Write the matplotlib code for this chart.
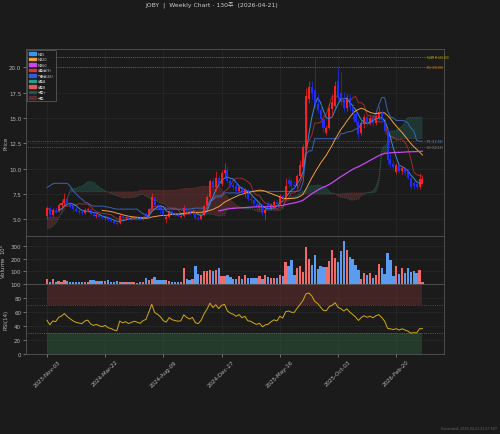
import numpy as np
import pandas as pd
import matplotlib
matplotlib.use('Agg')
import matplotlib.pyplot as plt
from matplotlib.patches import Patch

plt.rcParams['font.family'] = ['DejaVu Sans', 'Noto Sans CJK KR']

ticker = 'JOBY'
start_date = '2023-11-03'
asof = '2026-04-21'

# ---- weekly OHLC (visible 130 weeks) ----
opens = [5.3, 6.1, 5.4, 5.9, 5.8, 6.4, 6.6, 7.0, 6.6, 6.3,
         6.0, 5.8, 5.7, 5.6, 5.9, 6.0, 5.5, 5.3, 5.4, 5.2,
         5.1, 5.2, 4.9, 4.8, 4.6, 4.6, 5.3, 5.1, 5.2, 5.0,
         5.1, 5.2, 5.1, 5.0, 5.5, 5.3, 6.0, 7.2, 6.4, 6.2,
         5.9, 5.0, 5.2, 5.8, 5.5, 5.4, 5.25, 5.3, 6.1, 5.8,
         5.6, 5.8, 5.1, 5.0, 5.4, 6.3, 7.2, 8.8, 8.2, 9.1,
         8.5, 9.6, 9.9, 8.8, 8.4, 8.3, 7.8, 8.2, 7.6, 7.9,
         7.0, 6.9, 6.5, 6.2, 6.4, 5.6, 6.5, 6.0, 6.4, 6.7,
         6.5, 7.3, 7.0, 8.9, 8.8, 8.4, 8.3, 9.3, 10.2, 11.8,
         16.9, 18.1, 17.8, 16.4, 15.8, 14.9, 13.5, 14.0, 15.9, 16.2,
         18.6, 17.5, 16.8, 16.0, 17.0, 16.1, 15.4, 14.6, 13.5, 14.4,
         15.1, 14.6, 15.0, 14.5, 15.0, 15.4, 14.8, 13.7, 10.9, 10.5,
         9.7, 10.4, 9.8, 10.1, 9.8, 9.1, 8.6, 8.5, 8.2, 8.6]
highs = [6.3, 6.3, 6.1, 6.2, 6.6, 6.9, 7.6, 7.1, 6.7, 6.4,
         6.2, 6.0, 5.9, 6.1, 6.2, 6.0, 5.7, 5.6, 5.5, 5.4,
         5.3, 5.3, 5.1, 4.9, 4.7, 5.6, 5.4, 5.3, 5.3, 5.2,
         5.3, 5.4, 5.3, 5.3, 5.7, 6.1, 7.6, 7.3, 6.6, 6.3,
         6.0, 5.4, 5.9, 5.9, 5.7, 5.6, 5.5, 6.4, 6.2, 5.9,
         6.0, 5.9, 5.3, 5.5, 6.4, 7.4, 9.0, 9.2, 9.8, 9.4,
         9.9, 10.6, 10.3, 9.0, 8.7, 8.8, 8.4, 8.3, 8.1, 8.0,
         7.3, 7.1, 6.7, 6.6, 6.5, 6.2, 6.8, 6.6, 6.9, 6.9,
         7.5, 7.5, 9.1, 9.3, 9.0, 8.8, 9.5, 10.8, 12.4, 18.0,
         18.6, 18.6, 21.0, 17.4, 16.4, 15.2, 14.3, 16.5, 17.4, 18.6,
         20.0, 19.5, 17.6, 17.4, 17.4, 16.4, 15.7, 14.8, 14.8, 15.4,
         15.3, 15.3, 15.2, 15.4, 16.2, 15.8, 15.0, 13.9, 11.4, 10.8,
         10.6, 10.5, 10.3, 10.2, 10.0, 9.2, 8.8, 8.9, 9.6, 9.3]
lows = [5.0, 5.2, 5.2, 5.6, 5.7, 6.2, 6.4, 6.4, 6.1, 5.8,
        5.7, 5.5, 5.4, 5.5, 5.7, 5.4, 5.2, 5.1, 5.1, 5.0,
        4.9, 4.8, 4.7, 4.5, 4.4, 4.5, 5.0, 4.9, 4.9, 4.9,
        5.0, 5.0, 4.9, 4.9, 5.2, 5.2, 5.9, 6.2, 5.9, 5.6,
        5.3, 4.6, 5.1, 5.4, 5.3, 5.2, 5.1, 5.2, 5.6, 5.4,
        5.5, 5.0, 4.9, 4.9, 5.3, 6.1, 7.1, 7.9, 7.8, 8.2,
        8.3, 9.2, 8.6, 8.2, 7.9, 7.5, 7.6, 7.5, 7.2, 6.8,
        6.6, 6.3, 6.0, 5.9, 5.4, 4.9, 5.9, 5.9, 6.2, 6.3,
        6.4, 6.8, 6.9, 8.2, 8.0, 8.0, 8.1, 9.1, 9.8, 11.6,
        16.5, 16.9, 16.0, 15.5, 14.6, 13.6, 13.3, 13.9, 15.2, 16.0,
        16.8, 16.3, 15.6, 15.7, 15.8, 14.8, 14.3, 13.0, 13.3, 14.0,
        14.2, 14.3, 14.2, 14.3, 14.8, 14.6, 13.4, 10.4, 10.2, 10.0,
        9.5, 9.6, 9.5, 9.4, 9.0, 8.0, 8.0, 8.0, 8.0, 8.5]
closes = [6.1, 5.4, 5.9, 5.8, 6.4, 6.6, 7.0, 6.6, 6.3, 6.0,
          5.8, 5.7, 5.6, 5.9, 6.0, 5.5, 5.3, 5.4, 5.2, 5.1,
          5.2, 4.9, 4.8, 4.6, 4.5, 5.3, 5.1, 5.2, 5.0, 5.1,
          5.2, 5.1, 5.0, 5.2, 5.3, 6.0, 7.2, 6.4, 6.2, 5.9,
          5.4, 5.2, 5.8, 5.5, 5.4, 5.3, 5.35, 6.1, 5.8, 5.6,
          5.8, 5.1, 5.0, 5.4, 6.3, 7.2, 8.8, 8.2, 9.1, 8.5,
          9.6, 9.9, 8.8, 8.4, 8.2, 7.8, 8.2, 7.6, 7.9, 7.0,
          6.9, 6.5, 6.2, 6.4, 5.6, 5.9, 6.0, 6.4, 6.7, 6.5,
          7.3, 7.0, 8.3, 8.5, 8.3, 8.3, 9.3, 10.4, 12.1, 17.2,
          18.1, 17.5, 16.3, 15.8, 14.9, 14.0, 14.0, 16.0, 16.6, 18.2,
          17.0, 16.6, 16.0, 17.0, 16.1, 15.4, 14.6, 13.4, 14.5, 15.1,
          14.6, 15.0, 14.5, 15.2, 15.6, 14.8, 13.7, 10.8, 10.5, 10.2,
          10.4, 9.8, 10.1, 9.6, 9.1, 8.2, 8.3, 8.2, 9.0, 9.0]
volumes = [37, 19, 37, 16, 21, 19, 34, 24, 16, 14,
           12, 12, 13, 14, 15, 29, 28, 22, 24, 22,
           24, 32, 18, 16, 20, 18, 13, 12, 13, 12,
           13, 11, 15, 14, 50, 30, 37, 53, 35, 35,
           30, 30, 25, 18, 16, 16, 18, 122, 37, 30,
           42, 143, 82, 69, 105, 105, 108, 105, 108, 122,
           64, 64, 74, 58, 42, 42, 64, 42, 74, 50,
           50, 50, 50, 64, 42, 69, 53, 50, 50, 50,
           74, 66, 175, 143, 191, 74, 125, 143, 95, 291,
           196, 148, 228, 117, 138, 130, 130, 180, 268, 201,
           170, 262, 339, 265, 212, 196, 148, 111, 42, 90,
           69, 85, 48, 69, 154, 122, 82, 246, 185, 64,
           140, 82, 127, 90, 122, 95, 100, 85, 111, 13]

# ---- earlier weeks (needed for Ichimoku / RSI look-back) ----
pre_highs = [5.4, 5.6, 5.5, 5.3, 5.0, 5.2, 5.5, 5.7, 5.4, 5.6,
             6.2, 6.8, 7.1, 7.0, 6.6, 6.0, 5.4, 5.1, 5.0, 4.8,
             4.6, 4.5, 4.6, 4.4, 4.2, 4.0, 3.9, 3.8, 3.7, 3.6,
             3.7, 3.9, 4.2, 4.6, 4.7, 4.6, 4.4, 4.3, 4.2, 4.1,
             4.0, 4.2, 4.3, 4.1, 4.0, 4.1, 4.3, 4.6, 4.8, 4.6,
             4.4, 4.6, 4.8, 5.2, 5.6, 6.5, 7.8, 8.6, 10.5, 12.1,
             11.5, 10.6, 10.0, 9.4, 9.0, 8.4, 8.2, 7.8, 7.4, 7.2,
             6.9, 6.6, 6.4, 6.2, 6.0, 5.9, 6.0]
pre_lows = [4.3, 4.6, 4.7, 4.5, 4.4, 4.6, 4.8, 5.0, 4.8, 4.9,
            5.3, 5.8, 6.1, 6.0, 5.6, 5.0, 4.7, 4.5, 4.3, 4.2,
            4.0, 3.9, 4.0, 3.8, 3.7, 3.5, 3.5, 3.4, 3.3, 3.3,
            3.3, 3.4, 3.6, 3.9, 4.1, 4.0, 3.9, 3.8, 3.7, 3.6,
            3.6, 3.7, 3.8, 3.7, 3.6, 3.7, 3.8, 4.0, 4.2, 4.1,
            4.0, 4.1, 4.2, 4.5, 4.9, 5.3, 6.2, 7.0, 7.8, 9.2,
            9.3, 8.8, 8.4, 8.0, 7.6, 7.2, 7.0, 6.8, 6.5, 6.3,
            6.1, 5.8, 5.6, 5.5, 5.4, 5.3, 5.3]
pre_closes = [4.6, 5.3, 4.9, 4.7, 4.6, 5.0, 5.3, 5.2, 5.0, 5.5,
              6.0, 6.6, 6.8, 6.2, 5.8, 5.2, 4.9, 4.7, 4.5, 4.4,
              4.2, 4.1, 4.3, 3.9, 3.8, 3.6, 3.7, 3.5, 3.4, 3.5,
              3.6, 3.8, 4.1, 4.4, 4.3, 4.2, 4.0, 3.9, 3.8, 3.9,
              3.8, 4.0, 3.9, 3.8, 3.9, 4.0, 4.2, 4.4, 4.5, 4.3,
              4.2, 4.5, 4.7, 5.0, 5.4, 6.3, 7.5, 8.2, 10.0, 10.4,
              9.6, 9.0, 8.6, 8.2, 7.8, 7.4, 7.5, 7.0, 6.7, 6.5,
              6.3, 6.0, 5.8, 5.7, 5.5, 5.6, 5.4]

# ---- reference levels ----
level_values = [21.0, 20.0, 12.72, 12.15]
level_labels = ['52W H (21.00)', 'R1 (20.00)', 'P1 (12.72)', 'S1 (12.15)']
level_colors = ['#c8b400', '#d08a1a', '#5a8fb8', '#8a8a8a']

# ---------------- computations ----------------
n = len(closes)
idx = np.arange(n)
dates = pd.date_range(start_date, periods=n, freq='7D')
o = np.array(opens); h = np.array(highs); l = np.array(lows); c = np.array(closes)
v = np.array(volumes, dtype=float)

npre = len(pre_highs)
fh = pd.Series(pre_highs + highs)
fl = pd.Series(pre_lows + lows)
fc = pd.Series(pre_closes + closes)
tenkan_f = (fh.rolling(9).max() + fl.rolling(9).min()) / 2
kijun_f = (fh.rolling(26).max() + fl.rolling(26).min()) / 2
span_a_f = ((tenkan_f + kijun_f) / 2).shift(26)
span_b_f = ((fh.rolling(52).max() + fl.rolling(52).min()) / 2).shift(26)
tenkan = tenkan_f.iloc[npre:].to_numpy()
kijun = kijun_f.iloc[npre:].to_numpy()
span_a = span_a_f.iloc[npre:].to_numpy()
span_b = span_b_f.iloc[npre:].to_numpy()

cs = pd.Series(closes)
ma5 = cs.rolling(5).mean()
ma20 = cs.rolling(20).mean()
ma60 = cs.rolling(60).mean()

d = fc.diff()
gain = d.clip(lower=0).ewm(alpha=1/14, adjust=False).mean()
loss = (-d.clip(upper=0)).ewm(alpha=1/14, adjust=False).mean()
rsi = (100 - 100 / (1 + gain / loss)).iloc[npre:].to_numpy()

up = c >= o
candle_col = np.where(up, '#ff1e1e', '#1f2bff')
vol_col = np.where(up, '#f26b6b', '#5b9cf0')

# ---------------- drawing ----------------
BG = '#1b1b1b'
TXT = '#b8b8b8'
fig = plt.figure(figsize=(5, 4.35), dpi=100, facecolor=BG)
L, W = 0.052, 0.836
ax1 = fig.add_axes([L, 0.4552, W, 0.4298])
ax2 = fig.add_axes([L, 0.3448, W, 0.1104], sharex=ax1)
ax3 = fig.add_axes([L, 0.1839, W, 0.1609], sharex=ax1)

for ax in (ax1, ax2, ax3):
    ax.set_facecolor(BG)
    for s in ax.spines.values():
        s.set_color('#555555'); s.set_linewidth(0.6)
    ax.tick_params(colors=TXT, labelsize=4, length=2, width=0.4, pad=1.5)
    ax.grid(True, color='#2c2c2c', lw=0.4, ls='-')
    ax.set_axisbelow(True)

# cloud
ax1.fill_between(idx, span_a, span_b, where=span_a >= span_b, interpolate=True,
                 color='#2a7a68', alpha=0.3, lw=0)
ax1.fill_between(idx, span_a, span_b, where=span_a < span_b, interpolate=True,
                 color='#8a3a3a', alpha=0.38, lw=0)
ax1.plot(idx, span_a, color='#2a9d8f', lw=0.5, ls=':', alpha=0.7)
ax1.plot(idx, span_b, color='#b04848', lw=0.5, ls=':', alpha=0.7)

# levels
for val, lab, col in zip(level_values, level_labels, level_colors):
    ax1.axhline(val, color=col, lw=0.5, ls=':', alpha=0.9)
    ax1.text(n + 0.5, val, lab, color=col, fontsize=2.2, va='center', ha='left')

# lines
ax1.plot(idx, tenkan, color='#c03535', lw=0.7, alpha=0.75)
ax1.plot(idx, kijun, color='#3f6fd0', lw=0.7, alpha=0.85)
ax1.plot(idx, ma5, color='#3a97f0', lw=0.7, alpha=0.9)
ax1.plot(idx, ma20, color='#f0a040', lw=0.7)
ax1.plot(idx, ma60, color='#c847f0', lw=0.9)

# candles
body_lo = np.minimum(o, c)
body_h = np.maximum(np.abs(c - o), 0.03)
ax1.vlines(idx, l, h, colors=candle_col, lw=0.5)
ax1.bar(idx, body_h, bottom=body_lo, width=0.7, color=candle_col, lw=0)

ax1.set_ylim(3.35, 21.8)
ax1.set_xlim(-7.2, 136.4)
ax1.set_yticks([5, 7.5, 10, 12.5, 15, 17.5, 20])
ax1.yaxis.set_major_formatter(matplotlib.ticker.FormatStrFormatter('%.1f'))
ax1.set_ylabel('Price', color=TXT, fontsize=4)
ax1.tick_params(labelbottom=False)

handles = [Patch(color='#3a97f0', label='MA5'),
           Patch(color='#f0a040', label='MA20'),
           Patch(color='#c847f0', label='MA60'),
           Patch(color='#e03030', label='전환선(9)'),
           Patch(color='#2f5fd8', label='기준선(26)'),
           Patch(color='#22a08c', label='선행A'),
           Patch(color='#e05a5a', label='선행B'),
           Patch(color='#24514a', label='구름+'),
           Patch(color='#5e2c2c', label='구름-')]
leg = ax1.legend(handles=handles, loc='upper left', fontsize=2.4, frameon=True,
                 facecolor=BG, edgecolor='#777777', labelcolor='#cccccc',
                 handlelength=2.2, handleheight=0.9, borderpad=0.5,
                 labelspacing=0.45, handletextpad=0.6, borderaxespad=0.3)
leg.get_frame().set_linewidth(0.5)

# volume
ax2.bar(idx, v, width=0.8, color=vol_col, lw=0)
ax2.set_ylim(0, 377)
ax2.set_yticks([100, 200, 300])
ax2.set_ylabel('Volume  10$^6$', color=TXT, fontsize=4)
ax2.tick_params(labelbottom=False)

# RSI
ax3.fill_between(idx, 70, 100, color='#6a2e2e', alpha=0.5, lw=0)
ax3.fill_between(idx, 0, 30, color='#2e5a3a', alpha=0.5, lw=0)
ax3.axhline(70, color='#a04040', lw=0.6, ls=':')
ax3.axhline(30, color='#3f8f4f', lw=0.6, ls=':')
ax3.plot(idx, rsi, color='#d4aa10', lw=0.7)
ax3.set_ylim(0, 100)
ax3.set_yticks([0, 20, 40, 60, 80, 100])
ax3.set_ylabel('RSI(14)', color=TXT, fontsize=4)
tick_pos = idx[::20]
ax3.set_xticks(tick_pos)
ax3.set_xticklabels([dates[i].strftime('%Y-%b-%d') for i in tick_pos],
                    rotation=45, fontsize=4, color=TXT)

for ax in (ax1, ax2, ax3):
    ax.yaxis.set_label_coords(-0.043, 0.5)

fig.text(0.423, 0.987, f'{ticker}  |  Weekly Chart · 130주  ({asof})',
         ha='center', va='center', fontsize=4.4, color='#cccccc')
fig.text(0.994, 0.014, 'Generated: 2026-04-21 21:57 KST', ha='right', va='center',
         fontsize=2.3, color='#666666')

fig.savefig('out.png', dpi=100, facecolor=BG)
